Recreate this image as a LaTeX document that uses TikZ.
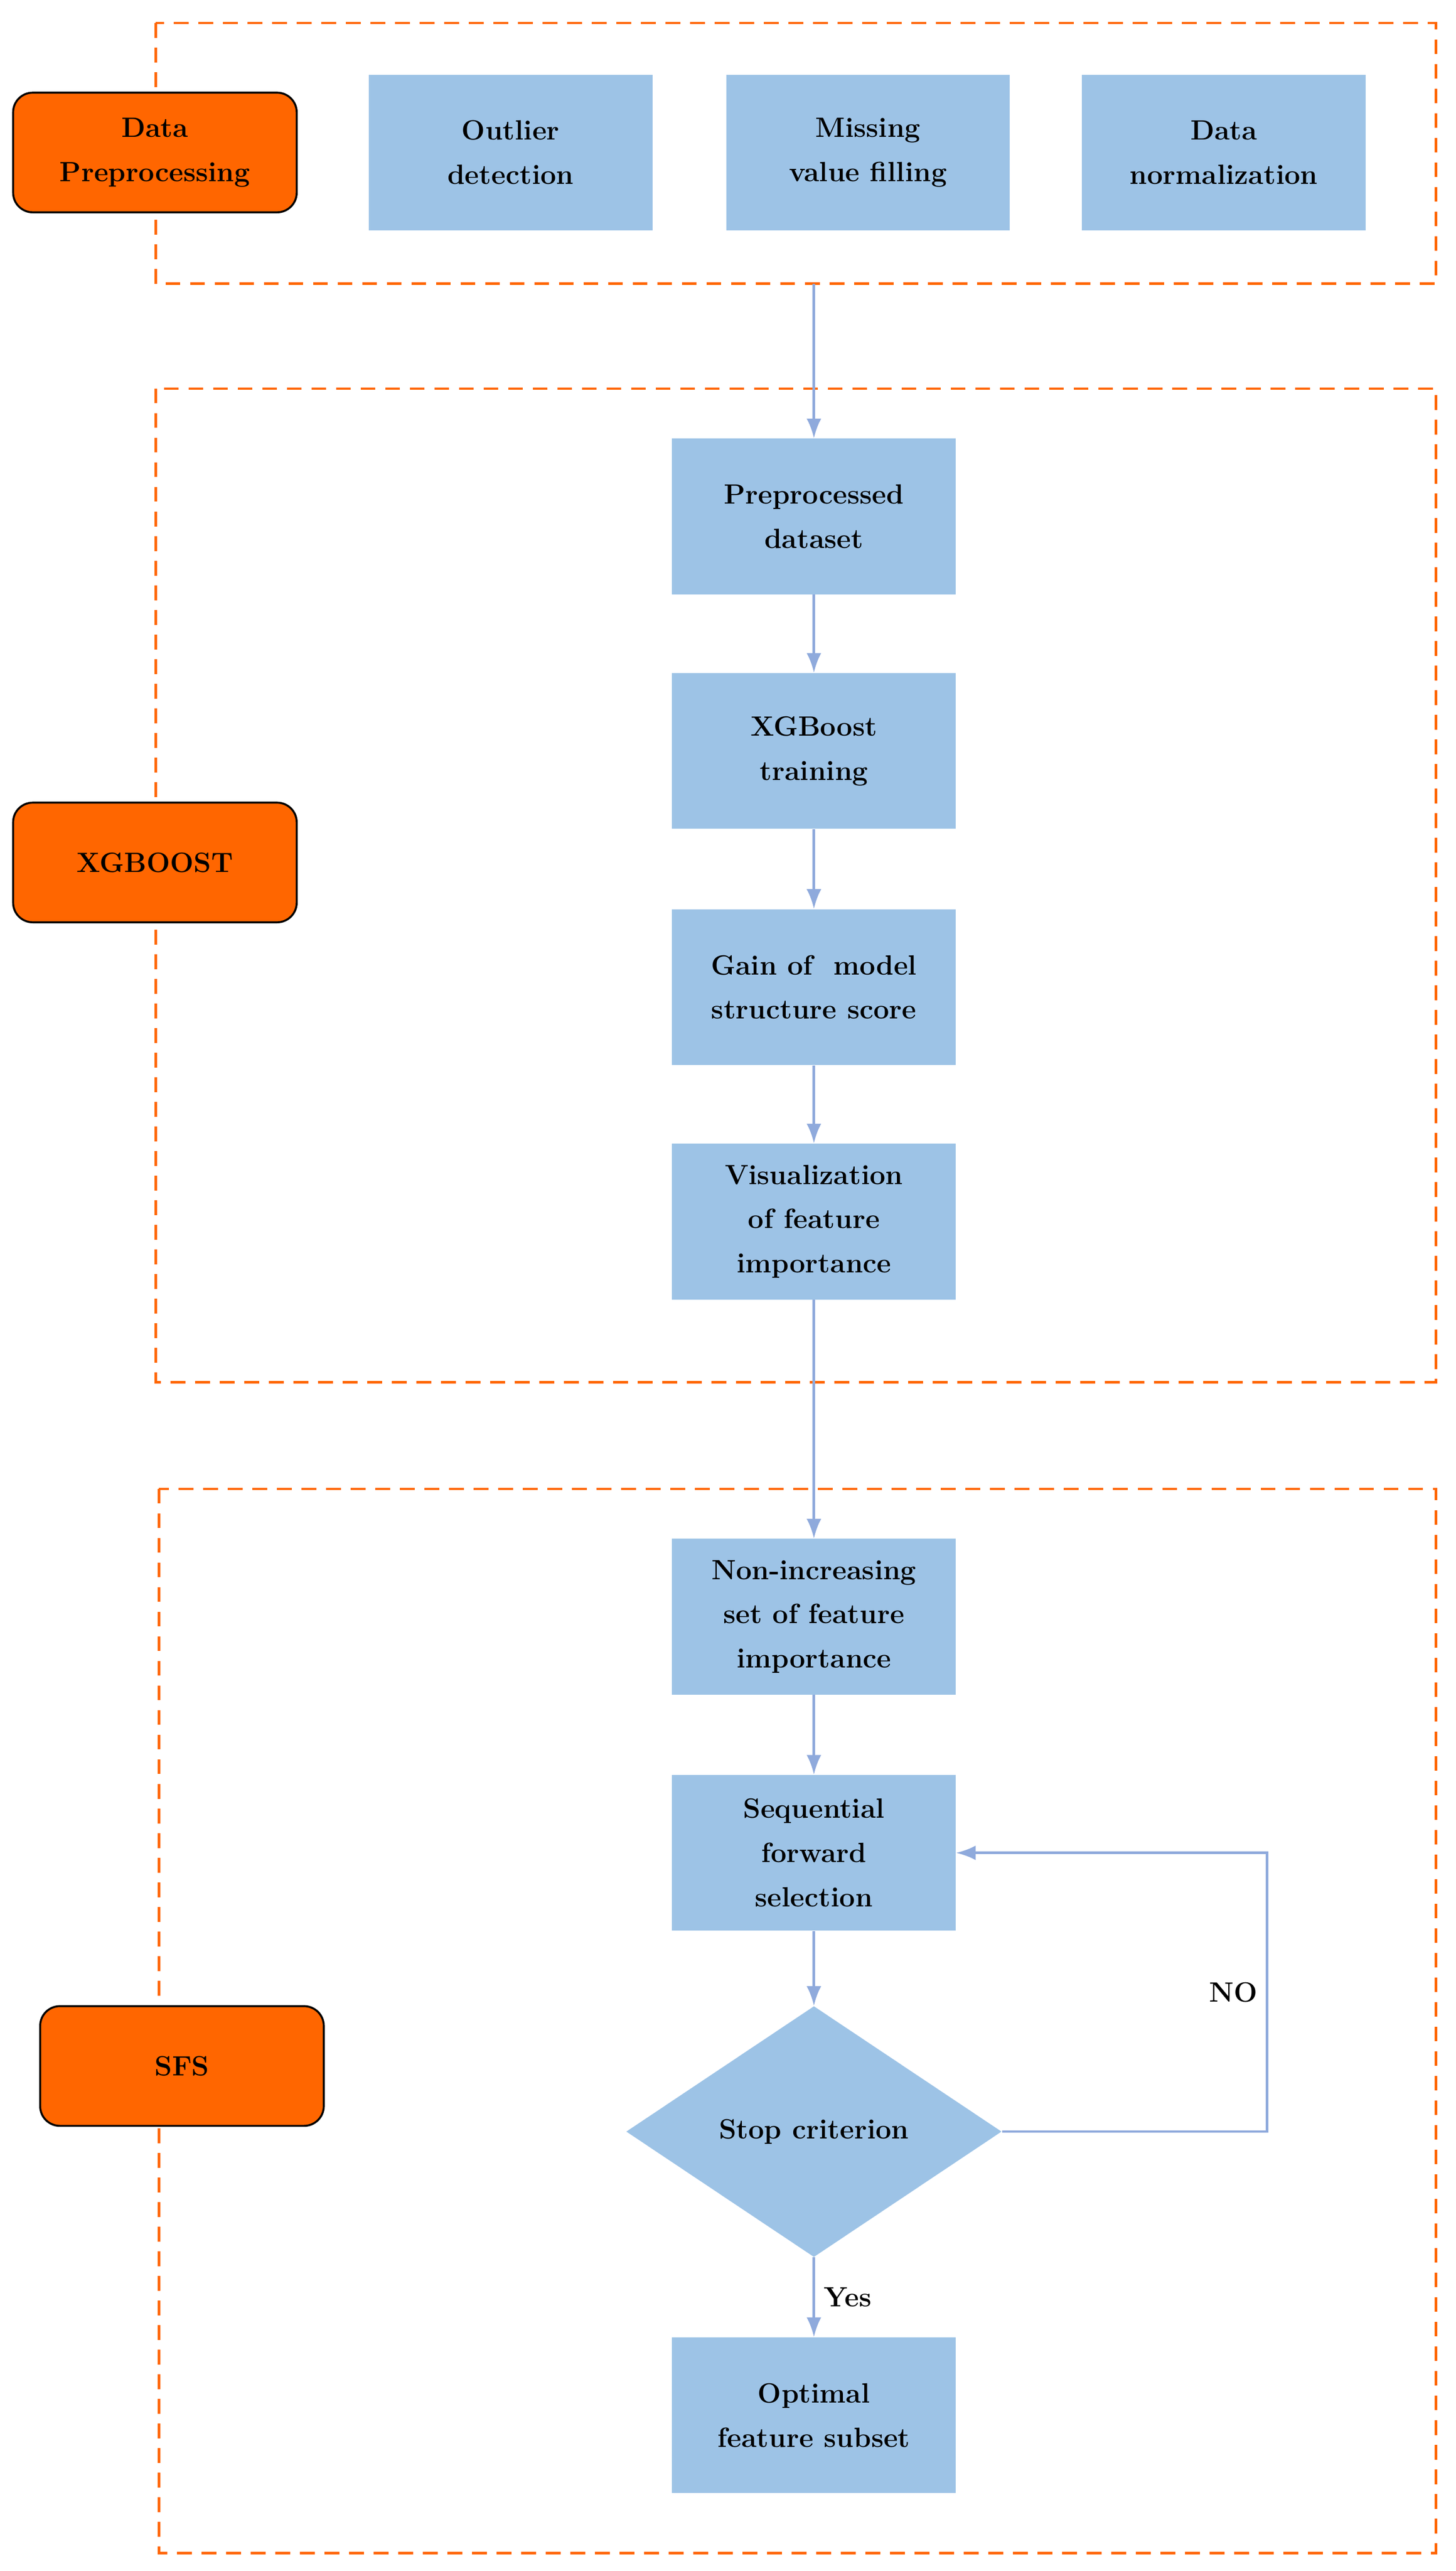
\documentclass[tikz,border=0pt]{standalone}
\usetikzlibrary{shapes.geometric,arrows.meta}
\definecolor{boxblue}{HTML}{9DC3E6}
\definecolor{arrblue}{HTML}{8FAADC}
\definecolor{tag}{HTML}{FF6600}
\begin{document}
\begin{tikzpicture}[x=1pt,y=-1pt,
  every node/.style={font=\fontsize{17}{27}\selectfont\bfseries, align=center},
  stage/.style={rectangle, fill=boxblue, minimum width=173pt, minimum height=95pt, inner sep=2pt},
  tagbox/.style={rectangle, rounded corners=12pt, draw=black, line width=1.2pt, fill=tag, minimum width=173pt, minimum height=73pt},
  frame/.style={draw=tag, line width=1.5pt, dash pattern=on 9pt off 6pt},
  arr/.style={-{Latex[length=12pt,width=9pt]}, draw=arrblue, line width=1.5pt}]
\useasboundingbox (0,0) rectangle (888,1568);
% frames
\draw[frame] (95,14) rectangle (876,173);
\draw[frame] (95,237) rectangle (876,843);
\draw[frame] (97,908) rectangle (876,1557);
% tags
\node[tagbox] (tdp) at (94.5,93) {Data\\Preprocessing};
\node[tagbox] (txg) at (94.5,526) {XGBOOST};
\node[tagbox] (tsfs) at (111,1260) {SFS};
% preprocessing steps
\node[stage] (out) at (311.5,93) {Outlier\\detection};
\node[stage] (mis) at (529.5,93) {Missing\\value filling};
\node[stage] (nor) at (746.5,93) {Data\\normalization};
\coordinate (pbot) at (496.5,173);
% xgboost column
\node[stage] (pre) at (496.5,315) {Preprocessed\\dataset};
\node[stage] (xgt) at (496.5,458) {XGBoost\\training};
\node[stage] (gain) at (496.5,602) {Gain of\ \ model\\structure score};
\node[stage] (vis) at (496.5,745) {Visualization\\of feature\\importance};
% sfs column
\node[stage] (non) at (496.5,986) {Non-increasing\\set of feature\\importance};
\node[stage] (seq) at (496.5,1130) {Sequential\\forward\\selection};
\node[diamond, fill=boxblue, minimum width=229pt, minimum height=153pt, inner sep=0pt, aspect=1.5] (stop) at (496.5,1300) {Stop criterion};
\node[stage] (opt) at (496.5,1473) {Optimal\\feature subset};
% connectors
\draw[arr] (pbot) -- (pre);
\draw[arr] (pre) -- (xgt);
\draw[arr] (xgt) -- (gain);
\draw[arr] (gain) -- (vis);
\draw[arr] (vis) -- (non);
\draw[arr] (non) -- (seq);
\draw[arr] (seq) -- (stop);
\draw[arr] (stop) -- node[right, xshift=2pt] {Yes} (opt);
\draw[arr] (stop.east) -- (773,1300) -- node[pos=0.5, left, xshift=-2pt] {NO} (773,1130) -- (seq.east);
\end{tikzpicture}
\end{document}
